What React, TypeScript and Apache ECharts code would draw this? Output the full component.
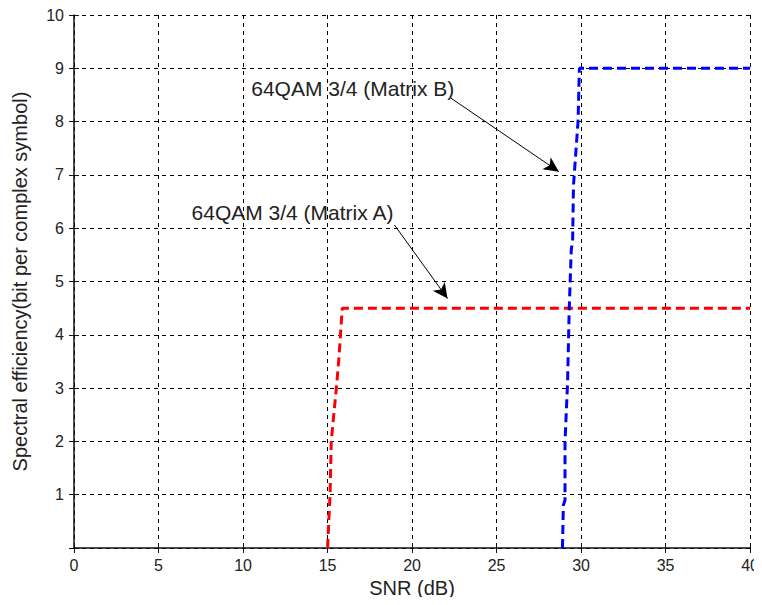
import React, { useEffect, useRef } from "react";
import * as echarts from "echarts";

// SNR (dB) / spectral efficiency pairs for each curve
const matrixA: [number, number][] = [
  [15.0, 0], [15.15, 1.0], [15.22, 2.0], [15.55, 3.1], [15.67, 3.55], [15.87, 4.5], [40, 4.5],
];
const matrixB: [number, number][] = [
  [28.9, 0], [28.95, 0.8], [29.05, 0.9], [29.05, 2.0], [29.2, 3.1], [29.3, 4.5],
  [29.42, 5.6], [29.5, 5.75], [29.55, 6.8], [29.82, 8.0], [29.9, 9.0], [40, 9.0],
];

// annotation labels: text, anchor (right end of text), arrow start and arrow tip
const labelTexts = ["64QAM 3/4 (Matrix A)", "64QAM 3/4 (Matrix B)"];
const labelAnchors: [number, number][] = [[18.9, 6.29], [22.5, 8.63]];
const arrowStarts: [number, number][] = [[18.96, 6.06], [22.3, 8.44]];
const arrowTips: [number, number][] = [[22.1, 4.68], [28.69, 7.06]];

const FONT = "'Liberation Sans', Arial, sans-serif";

export default function App() {
  const ref = useRef<HTMLDivElement>(null);

  useEffect(() => {
    if (!ref.current) return;
    const chart = echarts.init(ref.current, undefined, { renderer: "svg" });
    const gridLine = { show: true, lineStyle: { color: "#000", width: 1, type: [4, 4] as number[] } };
    chart.setOption({
      animation: false,
      backgroundColor: "#fff",
      grid: { left: 74, right: 10, top: 15, bottom: 57 },
      xAxis: [
        {
          type: "value",
          min: 0,
          max: 40,
          interval: 5,
          name: "SNR (dB)",
          nameLocation: "middle",
          nameGap: 30,
          nameTextStyle: { fontFamily: FONT, fontSize: 20, color: "#222" },
          axisLine: { show: true, onZero: false, lineStyle: { color: "#111", width: 1.5 } },
          axisTick: { show: true, inside: true, length: 5, lineStyle: { color: "#111" } },
          axisLabel: { fontFamily: FONT, fontSize: 16, color: "#222", margin: 9 },
          splitLine: gridLine,
        },
        {
          type: "value",
          position: "top",
          min: 0,
          max: 40,
          interval: 5,
          axisLine: { show: false },
          axisTick: { show: true, inside: true, length: 5, lineStyle: { color: "#111" } },
          axisLabel: { show: false },
          splitLine: { show: false },
        },
      ],
      yAxis: [
        {
          type: "value",
          min: 0,
          max: 10,
          interval: 1,
          name: "Spectral efficiency(bit per complex symbol)",
          nameLocation: "middle",
          nameGap: 44,
          nameTextStyle: { fontFamily: FONT, fontSize: 20, color: "#222" },
          axisLine: { show: true, onZero: false, lineStyle: { color: "#111", width: 1.5 } },
          axisTick: { show: true, inside: true, length: 5, lineStyle: { color: "#111" } },
          axisLabel: {
            fontFamily: FONT,
            fontSize: 16,
            color: "#222",
            margin: 10,
            formatter: (v: number) => (v === 0 ? "" : String(v)),
          },
          splitLine: gridLine,
        },
        {
          type: "value",
          position: "right",
          min: 0,
          max: 10,
          interval: 1,
          axisLine: { show: false },
          axisTick: { show: true, inside: true, length: 5, lineStyle: { color: "#111" } },
          axisLabel: { show: false },
          splitLine: { show: false },
        },
      ],
      series: [
        {
          name: "Matrix A",
          type: "line",
          data: matrixA,
          showSymbol: false,
          symbol: "none",
          lineStyle: { color: "#ff0000", width: 3, type: [9, 5] },
          z: 3,
        },
        {
          name: "Matrix B",
          type: "line",
          data: matrixB,
          showSymbol: false,
          symbol: "none",
          lineStyle: { color: "#0000ff", width: 3, type: [9, 5] },
          z: 3,
        },
        {
          name: "annotations",
          type: "line",
          data: [],
          silent: true,
          markLine: {
            silent: true,
            symbol: ["none", "arrow"],
            symbolSize: [11, 15],
            label: { show: false },
            lineStyle: { color: "#000", width: 1, type: "solid" },
            itemStyle: { color: "#000" },
            data: arrowStarts.map((s, i) => [{ coord: s }, { coord: arrowTips[i] }]),
          },
          markPoint: {
            silent: true,
            symbol: "circle",
            symbolSize: 0,
            itemStyle: { color: "transparent" },
            label: {
              show: true,
              position: "left",
              distance: 0,
              fontFamily: FONT,
              fontSize: 21,
              color: "#222",
              formatter: (p: any) => p.name,
            },
            data: labelTexts.map((t, i) => ({ name: t, coord: labelAnchors[i] })),
          },
        },
      ],
    });
    return () => chart.dispose();
  }, []);

  return <div ref={ref} style={{ width: 762, height: 605, margin: -8 }} />;
}
